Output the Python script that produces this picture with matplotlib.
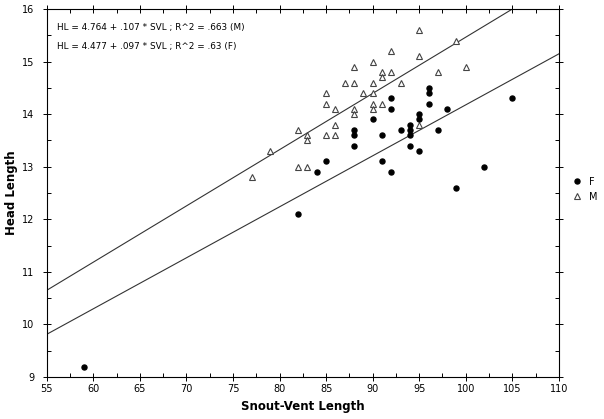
import numpy as np
import matplotlib
matplotlib.use('Agg')
import matplotlib.pyplot as plt
from matplotlib.ticker import MultipleLocator

# Female (F) points: snout-vent length, head length
f_svl = [59, 82, 84, 85, 88, 88, 88, 90, 91, 91, 92, 92, 92, 93, 94, 94, 94, 94,
         95, 95, 95, 96, 96, 96, 97, 98, 99, 102, 105]
f_hl = [9.2, 12.1, 12.9, 13.1, 13.7, 13.6, 13.4, 13.9, 13.6, 13.1, 14.3, 14.1, 12.9,
        13.7, 13.8, 13.7, 13.6, 13.4, 14.0, 13.9, 13.3, 14.5, 14.4, 14.2, 13.7, 14.1,
        12.6, 13.0, 14.3]

# Male (M) points
m_svl = [77, 79, 82, 82, 83, 83, 83, 85, 85, 85, 86, 86, 86, 87, 88, 88, 88, 88,
         89, 90, 90, 90, 90, 90, 91, 91, 91, 92, 92, 93, 95, 95, 95, 97, 99, 100]
m_hl = [12.8, 13.3, 13.7, 13.0, 13.6, 13.5, 13.0, 14.4, 14.2, 13.6, 14.1, 13.8, 13.6,
        14.6, 14.9, 14.6, 14.1, 14.0, 14.4, 15.0, 14.6, 14.4, 14.2, 14.1, 14.8, 14.7,
        14.2, 15.2, 14.8, 14.6, 15.6, 15.1, 13.8, 14.8, 15.4, 14.9]

# regression fits
m_fit = (4.764, 0.107)
f_fit = (4.477, 0.097)
eq_m = "HL = 4.764 + .107 * SVL ; R^2 = .663 (M)"
eq_f = "HL = 4.477 + .097 * SVL ; R^2 = .63 (F)"

plt.rcParams['font.family'] = 'DejaVu Sans'

fig = plt.figure(figsize=(6.04, 4.19), dpi=100)
ax = fig.add_axes([0.0773, 0.1002, 0.848, 0.8783])

xs = np.array([55, 110])
ax.plot(xs, m_fit[0] + m_fit[1] * xs, color='#333333', lw=0.8, zorder=1)
ax.plot(xs, f_fit[0] + f_fit[1] * xs, color='#333333', lw=0.8, zorder=1)

ax.plot(f_svl, f_hl, 'o', color='black', markersize=3.6, label='F',
        linestyle='none', zorder=3)
ax.plot(m_svl, m_hl, '^', markerfacecolor='white', markeredgecolor='#444444',
        markeredgewidth=0.8, markersize=5, label='M', linestyle='none', zorder=2)

ax.set_xlim(55, 110)
ax.set_ylim(9, 16)
ax.xaxis.set_major_locator(MultipleLocator(5))
ax.xaxis.set_minor_locator(MultipleLocator(2.5))
ax.yaxis.set_major_locator(MultipleLocator(1))
ax.yaxis.set_minor_locator(MultipleLocator(0.5))
ax.tick_params(which='major', direction='inout', length=6, width=0.7,
               labelsize=7, top=True, right=True)
ax.tick_params(axis='x', which='major', pad=2)
ax.tick_params(axis='y', which='major', pad=6)
ax.tick_params(which='minor', direction='in', length=3, width=0.7,
               top=True, right=True)
for s in ax.spines.values():
    s.set_linewidth(0.8)

ax.set_xlabel('Snout-Vent Length', fontsize=8.5, fontweight='bold', labelpad=4)
ax.set_ylabel('Head Length', fontsize=8.5, fontweight='bold', labelpad=3)

ax.text(0.02, 0.951, eq_m, transform=ax.transAxes, fontsize=6.4, va='center')
ax.text(0.02, 0.899, eq_f, transform=ax.transAxes, fontsize=6.4, va='center')

ax.legend(loc='center left', bbox_to_anchor=(1.005, 0.51), frameon=False,
          fontsize=7, handletextpad=0.6, borderaxespad=0.6, labelspacing=0.5,
          handlelength=1.2)

fig.savefig('out.png', dpi=100)
